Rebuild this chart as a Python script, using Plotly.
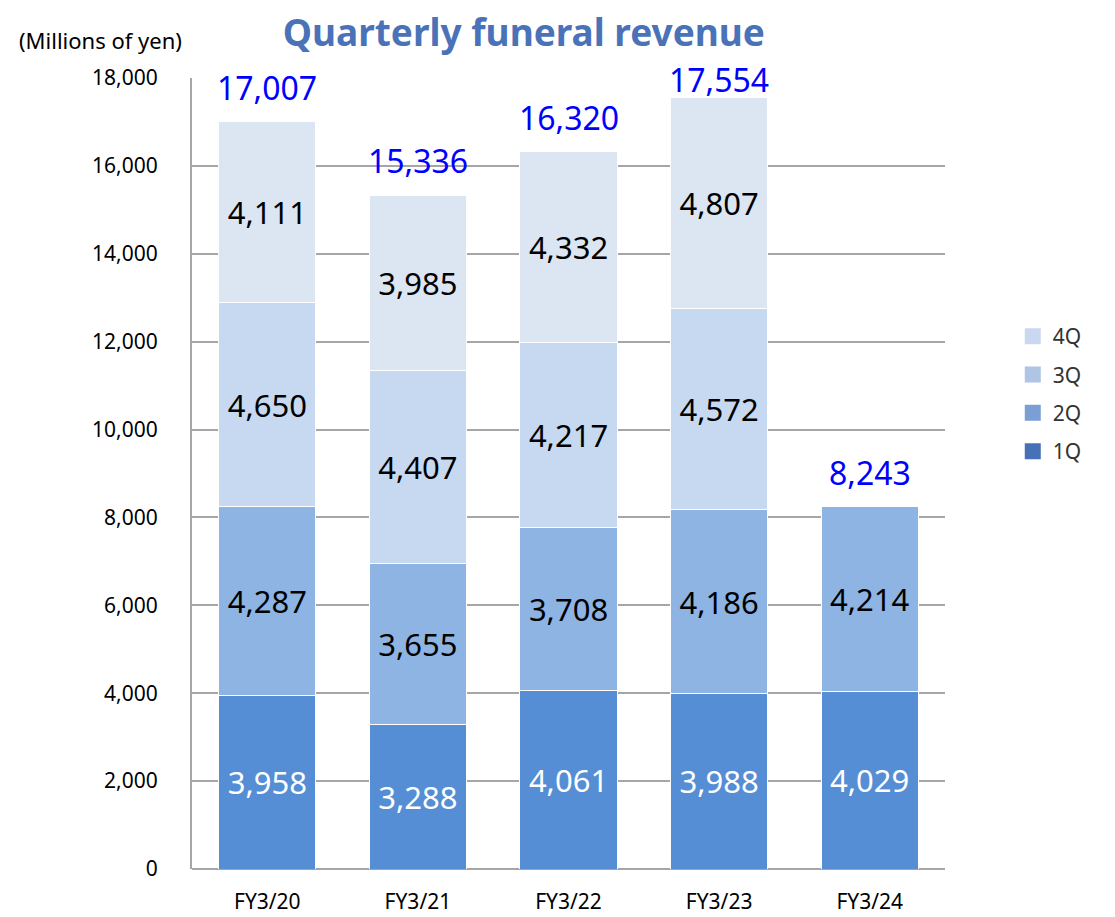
import plotly.graph_objects as go

categories = ["FY3/20", "FY3/21", "FY3/22", "FY3/23", "FY3/24"]
q1 = [3958, 3288, 4061, 3988, 4029]
q2 = [4287, 3655, 3708, 4186, 4214]
q3 = [4650, 4407, 4217, 4572, None]
q4 = [4111, 3985, 4332, 4807, None]
totals = [17007, 15336, 16320, 17554, 8243]
y_ticks = [0, 2000, 4000, 6000, 8000, 10000, 12000, 14000, 16000, 18000]

# pixel offset of each total label above its bar (style, not data)
total_label_shift = [11, 11, 11, -5, 11]

series = [
    ("1Q", q1, "#558ED5", "#4670B8", "white"),
    ("2Q", q2, "#8EB4E3", "#7B9FD4", "black"),
    ("3Q", q3, "#C6D9F1", "#B0C4E4", "black"),
    ("4Q", q4, "#DCE6F2", "#C9D8EE", "black"),
]

FONT = "Noto Sans, Liberation Sans, sans-serif"
fig = go.Figure()
for name, vals, col, lcol, tcol in series:
    fig.add_trace(go.Bar(
        x=categories, y=vals, name=name, showlegend=False,
        marker=dict(color=col, line=dict(color="white", width=1)),
        text=[f"{v:,}" if v is not None else "" for v in vals],
        textposition="inside", insidetextanchor="middle",
        textfont=dict(size=31, color=tcol, family=FONT),
        textangle=0, cliponaxis=False,
    ))
# legend entries, listed 4Q first as in the reference
for name, vals, col, lcol, tcol in reversed(series):
    fig.add_trace(go.Scatter(
        x=[None], y=[None], name=name, showlegend=True, legendgroup=name,
        mode="markers", marker=dict(symbol="square", size=16, color=lcol),
    ))

for c, t, s in zip(categories, totals, total_label_shift):
    fig.add_annotation(x=c, y=t, text=f"{t:,}", showarrow=False,
                       yanchor="bottom", yshift=s,
                       font=dict(size=32, color="#0000FF", family=FONT))

fig.add_annotation(xref="paper", yref="paper", x=-0.233, y=1.027,
                   xanchor="left", yanchor="bottom", showarrow=False,
                   text="(Millions of yen)",
                   font=dict(size=22, color="black", family=FONT))

fig.update_layout(
    width=1107, height=909,
    barmode="stack", bargap=0.355,
    paper_bgcolor="white", plot_bgcolor="white",
    margin=dict(l=184, r=170, t=70, b=48),
    title=dict(text="<b>Quarterly funeral revenue</b>", x=0.466, xanchor="center",
               y=0.9725, yanchor="middle",
               font=dict(size=37, color="#4A72B8", family=FONT)),
    legend=dict(x=1.09, y=0.699, xanchor="left", yanchor="top",
                traceorder="grouped",
                font=dict(size=21, color="#333333", family=FONT),
                tracegroupgap=8, itemsizing="trace"),
    xaxis=dict(showgrid=False, showline=False, ticks="", ticklabelstandoff=18,
               automargin=False,
               tickfont=dict(size=21, color="black", family=FONT)),
    yaxis=dict(range=[0, 18000], tickvals=y_ticks,
               ticktext=[f"{v:,}" for v in y_ticks],
               showgrid=True, gridcolor="#A6A6A6", gridwidth=1.5,
               showline=True, linecolor="#A6A6A6", linewidth=2,
               zeroline=True, zerolinecolor="#A6A6A6", zerolinewidth=2,
               ticks="", ticklabelstandoff=28, automargin=False,
               tickfont=dict(size=21, color="black", family=FONT)),
)
fig.write_html("out.html")
